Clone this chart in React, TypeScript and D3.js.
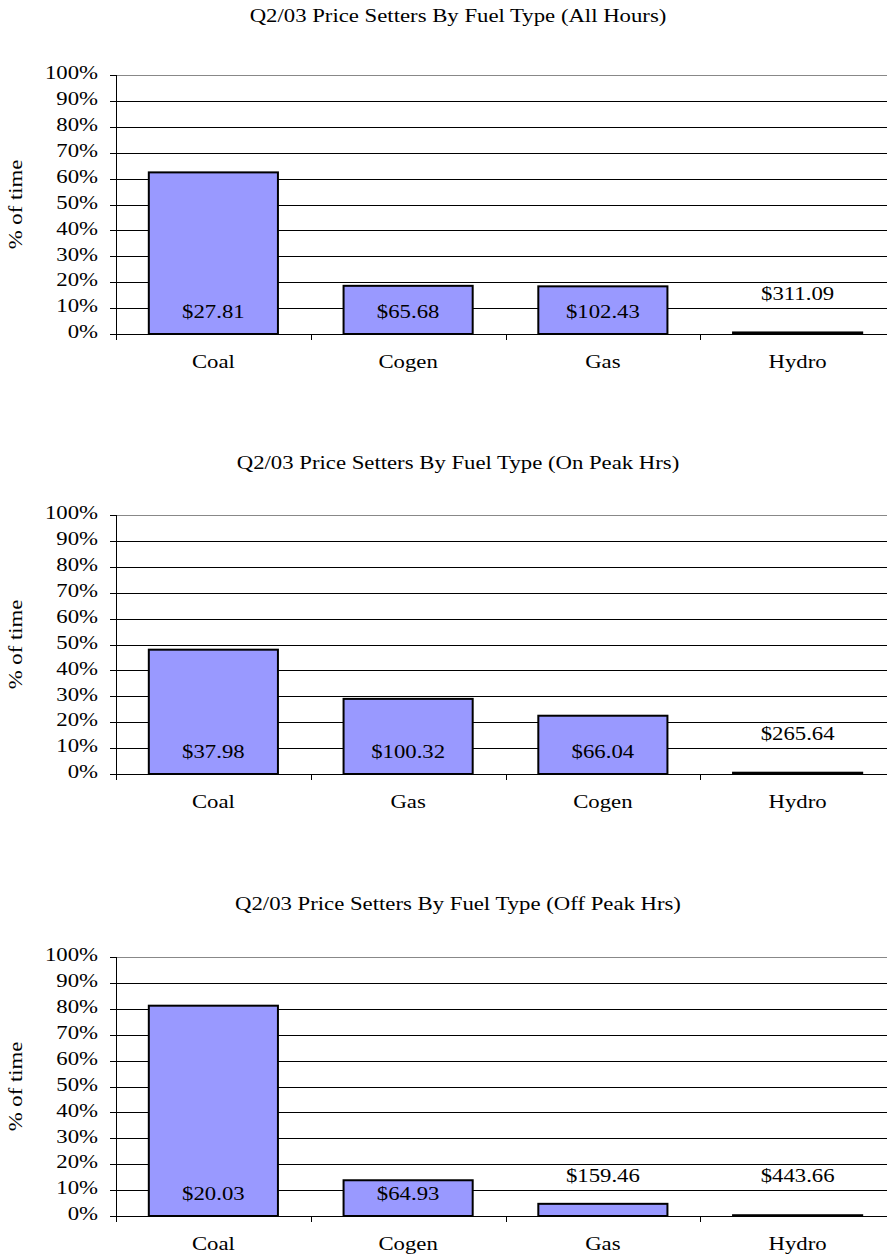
import React from "react";
import * as d3 from "d3";

const titles = [
  "Q2/03 Price Setters By Fuel Type (All Hours)",
  "Q2/03 Price Setters By Fuel Type (On Peak Hrs)",
  "Q2/03 Price Setters By Fuel Type (Off Peak Hrs)",
];
const categoriesAll = ["Coal", "Cogen", "Gas", "Hydro"];
const categoriesOn = ["Coal", "Gas", "Cogen", "Hydro"];
const categoriesOff = ["Coal", "Cogen", "Gas", "Hydro"];
const shareAll = [0.624, 0.186, 0.184, 0.006];
const shareOn = [0.48, 0.29, 0.225, 0.005];
const shareOff = [0.812, 0.138, 0.047, 0.003];
const priceAll = ["$27.81", "$65.68", "$102.43", "$311.09"];
const priceOn = ["$37.98", "$100.32", "$66.04", "$265.64"];
const priceOff = ["$20.03", "$64.93", "$159.46", "$443.66"];
const yTicks = [0, 0.1, 0.2, 0.3, 0.4, 0.5, 0.6, 0.7, 0.8, 0.9, 1.0];

const panels = [
  { title: titles[0], cats: categoriesAll, vals: shareAll, labels: priceAll },
  { title: titles[1], cats: categoriesOn, vals: shareOn, labels: priceOn },
  { title: titles[2], cats: categoriesOff, vals: shareOff, labels: priceOff },
];

const W = 887;
const H = 1258;
const FONT = "'Liberation Serif', 'Times New Roman', serif";
const FS = 18.5;
const SX = 1.23;
const plotLeft = 116;
const plotRight = 895;
const tops = [75, 515, 957];
const plotH = 259;
const titleY = [18, 465, 906];

function SText({ x, y, anchor = "middle", children, rotate = 0 }: any) {
  return (
    <text
      transform={`translate(${x},${y}) rotate(${rotate}) scale(${SX},1)`}
      textAnchor={anchor}
      dominantBaseline="middle"
      fontSize={FS}
      fontFamily={FONT}
      fill="#000"
    >
      {children}
    </text>
  );
}

function Panel({ p, idx }: { p: typeof panels[0]; idx: number }) {
  const top = tops[idx];
  const bottom = top + plotH;
  const y = d3.scaleLinear().domain([0, 1]).range([bottom, top]);
  const x = d3.scaleBand().domain(p.cats).range([plotLeft, plotRight]).paddingInner(0.337).paddingOuter(0.1685);
  const band = d3.scaleBand().domain(p.cats).range([plotLeft, plotRight]);
  return (
    <g>
      <SText x={458} y={titleY[idx]}>{p.title}</SText>
      {yTicks.map((t, i) => (
        <g key={i}>
          {t > 0 && (
            <line x1={plotLeft} x2={plotRight} y1={Math.round(y(t)) + 0.5} y2={Math.round(y(t)) + 0.5} stroke={t === 1 ? "#888" : "#000"} strokeWidth={1} />
          )}
          <line x1={plotLeft - 6} x2={plotLeft} y1={Math.round(y(t)) + 0.5} y2={Math.round(y(t)) + 0.5} stroke="#000" />
          <SText x={plotLeft - 18} y={y(t)} anchor="end">{Math.round(t * 100) + "%"}</SText>
        </g>
      ))}
      {p.cats.map((c, i) => {
        const v = p.vals[i];
        return (
          <rect key={c} x={x(c)!} y={y(v)} width={x.bandwidth()} height={Math.max(0, bottom - y(v))} fill="#9999FF" stroke="#000" strokeWidth={2} />
        );
      })}
      <line x1={plotLeft + 0.5} x2={plotLeft + 0.5} y1={top} y2={bottom + 6} stroke="#000" />
      <line x1={plotLeft} x2={plotRight} y1={bottom + 0.5} y2={bottom + 0.5} stroke="#000" />
      {p.cats.map((c) => (
        <line key={"t" + c} x1={Math.round(band(c)! + band.bandwidth()) + 0.5} x2={Math.round(band(c)! + band.bandwidth()) + 0.5} y1={bottom} y2={bottom + 6} stroke="#000" />
      ))}
      {p.cats.map((c) => (
        <SText key={"c" + c} x={x(c)! + x.bandwidth() / 2} y={bottom + 30}>{c}</SText>
      ))}
      {p.cats.map((c, i) => {
        const v = p.vals[i];
        const ly = v >= 0.12 ? y(0.08) : y(0.148);
        return (
          <SText key={"l" + c} x={x(c)! + x.bandwidth() / 2} y={ly}>{p.labels[i]}</SText>
        );
      })}
      <SText x={18} y={(top + bottom) / 2} rotate={-90}>% of time</SText>
    </g>
  );
}

export default function App() {
  return (
    <svg width={W} height={H} style={{ position: "absolute", left: 0, top: 0, background: "#fff" }}>
      <rect width={W} height={H} fill="#fff" />
      {panels.map((p, i) => (
        <Panel key={i} p={p} idx={i} />
      ))}
    </svg>
  );
}
